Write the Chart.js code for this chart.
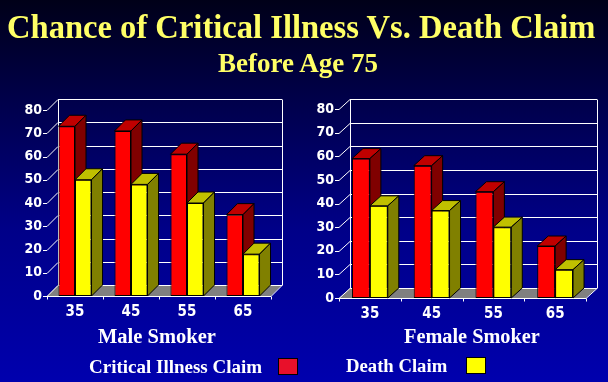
<!DOCTYPE html>
<html><head><meta charset="utf-8">
<script src="https://cdn.jsdelivr.net/npm/chart.js@4"></script>
<style>
html,body{margin:0;padding:0;}
body{width:608px;height:382px;overflow:hidden;position:relative;
 background:linear-gradient(to bottom,#000018 0%,#000046 24%,#000088 60%,#0000ae 100%);
 font-family:'Liberation Serif','Times New Roman',serif;font-weight:bold;}
canvas{position:absolute;left:0;top:0;}
.t{position:absolute;white-space:nowrap;line-height:1;transform-origin:left top;}
.sw{position:absolute;box-sizing:border-box;border:1px solid #000;}
</style></head><body>
<canvas id="c1" width="608" height="382"></canvas>
<canvas id="c2" width="608" height="382"></canvas>
<div id="title" class="t" style="left:7px;top:10px;font-size:34px;color:#ffff66;transform:scaleX(0.958)"></div>
<div id="sub" class="t" style="left:218px;top:50px;font-size:27px;color:#ffff66"></div>
<div id="n1" class="t" style="left:98px;top:326px;font-size:20.5px;color:#fff"></div>
<div id="n2" class="t" style="left:404px;top:326px;font-size:20.3px;color:#fff"></div>
<div id="l1" class="t" style="left:89px;top:357px;font-size:19px;color:#fff"></div>
<div id="l2" class="t" style="left:346px;top:357px;font-size:18.7px;color:#fff"></div>
<div class="sw" style="left:278px;top:358px;width:20px;height:17px;background:#e8102a"></div>
<div class="sw" style="left:466px;top:357px;width:20px;height:17px;background:#ffff00"></div>
<script>
// ---- data ----
const titleText = 'Chance of Critical Illness Vs. Death Claim';
const subtitleText = 'Before Age 75';
const categories = ['35', '45', '55', '65'];
const seriesNames = ['Critical Illness Claim', 'Death Claim'];
const chartNames = ['Male Smoker', 'Female Smoker'];
const maleCritical = [73, 71, 61, 35];
const maleDeath = [50, 48, 40, 18];
const femaleCritical = [59, 56, 45, 22];
const femaleDeath = [39, 37, 30, 12];
const yMin = 0, yMax = 80, yStep = 10;

document.getElementById('title').textContent = titleText;
document.getElementById('sub').textContent = subtitleText;
document.getElementById('n1').textContent = chartNames[0];
document.getElementById('n2').textContent = chartNames[1];
document.getElementById('l1').textContent = seriesNames[0];
document.getElementById('l2').textContent = seriesNames[1];

const FRONT = ['#ff0000', '#ffff00'];
const TOP = ['#c00000', '#c0c000'];
const SIDE = ['#800000', '#808000'];
const tickFont = "'Liberation Sans Narrow','DejaVu Sans Condensed',sans-serif";

function poly(ctx, pts, fill) {
  ctx.beginPath();
  ctx.moveTo(pts[0][0], pts[0][1]);
  for (let i = 1; i < pts.length; i++) ctx.lineTo(pts[i][0], pts[i][1]);
  ctx.closePath();
  ctx.fillStyle = fill; ctx.fill(); ctx.stroke();
}

function bars3d(dx, dy) {
  return {
    id: 'bars3d',
    beforeDatasetsDraw(chart) {
      const {ctx, chartArea: a, scales: {x, y}} = chart;
      const b = a.bottom;
      ctx.save();
      ctx.fillStyle = '#808080';
      ctx.beginPath();
      ctx.moveTo(a.left, b); ctx.lineTo(a.right, b);
      ctx.lineTo(a.right + dx, b - dy); ctx.lineTo(a.left + dx, b - dy);
      ctx.closePath(); ctx.fill();
      ctx.strokeStyle = '#ffffff'; ctx.lineWidth = 1;
      ctx.beginPath();
      y.ticks.forEach(t => {
        const py = Math.round(y.getPixelForValue(t.value)) + 0.5;
        ctx.moveTo(a.left + dx, py - dy); ctx.lineTo(a.right + dx, py - dy);
        ctx.moveTo(a.left, py); ctx.lineTo(a.left + dx, py - dy);
        ctx.moveTo(a.left - 4, py); ctx.lineTo(a.left, py);
      });
      const pTop = Math.round(y.getPixelForValue(yMax)) + 0.5;
      const pBot = Math.round(y.getPixelForValue(yMin)) + 0.5;
      ctx.moveTo(Math.round(a.left + dx) + 0.5, pTop - dy); ctx.lineTo(Math.round(a.left + dx) + 0.5, pBot - dy);
      ctx.moveTo(Math.round(a.right + dx) + 0.5, pTop - dy); ctx.lineTo(Math.round(a.right + dx) + 0.5, pBot - dy);
      ctx.moveTo(a.left, pBot); ctx.lineTo(a.right, pBot); ctx.lineTo(a.right + dx, pBot - dy);
      const n = x.ticks.length, cw = (a.right - a.left) / n;
      for (let i = 0; i <= n; i++) {
        const px = Math.round(a.left + i * cw) + 0.5;
        ctx.moveTo(px, pBot); ctx.lineTo(px, pBot + 3);
      }
      ctx.stroke();
      ctx.restore();
    },
    beforeDatasetDraw() { return false; },
    afterDatasetsDraw(chart) {
      const ctx = chart.ctx;
      const metas = chart.data.datasets.map((d, i) => chart.getDatasetMeta(i));
      const nCat = chart.data.labels.length;
      for (let c = 0; c < nCat; c++) {
        metas.forEach((meta, i) => {
          const el = meta.data[c];
          el.draw(ctx, chart.chartArea);
          const {x, y, base, width} = el.getProps(['x', 'y', 'base', 'width'], true);
          const L = x - width / 2, R = x + width / 2;
          ctx.save();
          ctx.strokeStyle = '#000'; ctx.lineWidth = 1;
          poly(ctx, [[L, y], [R, y], [R + dx, y - dy], [L + dx, y - dy]], TOP[i]);
          poly(ctx, [[R, y], [R + dx, y - dy], [R + dx, base - dy], [R, base]], SIDE[i]);
          ctx.restore();
        });
      }
    }
  };
}

function makeChart(id, crit, death, g) {
  return new Chart(document.getElementById(id), {
    type: 'bar',
    data: {
      labels: categories,
      datasets: [
        {label: seriesNames[0], data: crit, backgroundColor: FRONT[0]},
        {label: seriesNames[1], data: death, backgroundColor: FRONT[1]}
      ]
    },
    options: {
      responsive: false, animation: false, devicePixelRatio: 1,
      layout: {padding: {left: 0, top: g.top, right: g.right, bottom: 0}},
      datasets: {bar: {borderColor: '#000', borderWidth: 1, borderSkipped: false,
        categoryPercentage: g.cat, barPercentage: 1}},
      plugins: {legend: {display: false}, title: {display: false}, tooltip: {enabled: false}},
      scales: {
        x: {
          grid: {display: false, drawTicks: false}, border: {display: false},
          ticks: {color: '#fff', font: {family: tickFont, size: 15, weight: 'bold'}, padding: 7},
          afterFit: s => { s.height = g.xh; }
        },
        y: {
          min: yMin, max: yMax,
          grid: {display: false, drawTicks: false}, border: {display: false},
          ticks: {stepSize: yStep, color: '#fff', font: {family: tickFont, size: 14, weight: 'bold'}, padding: 5},
          afterFit: s => { s.width = g.yw; }
        }
      }
    },
    plugins: [bars3d(g.dx, g.dy)]
  });
}

makeChart('c1', maleCritical, maleDeath, {top: 110, right: 337, xh: 86, yw: 47, cat: 0.59, dx: 11, dy: 11});
makeChart('c2', femaleCritical, femaleDeath, {top: 109, right: 22, xh: 84, yw: 339, cat: 0.58, dx: 11, dy: 10});
</script>
</body></html>
